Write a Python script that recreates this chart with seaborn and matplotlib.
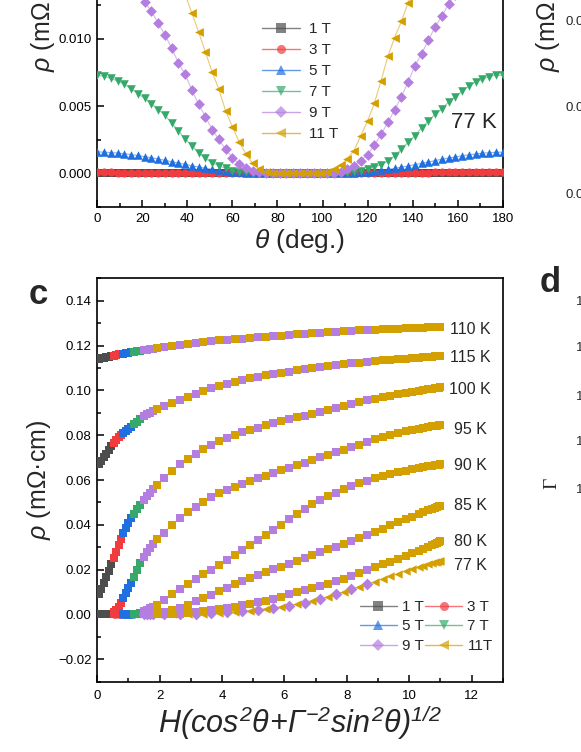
import numpy as np
import pandas as pd
import matplotlib
matplotlib.use("Agg")
import matplotlib.pyplot as plt
from matplotlib.lines import Line2D
from matplotlib.ticker import MultipleLocator, FuncFormatter
import seaborn as sns

# ---------------- data: panel (top) rho vs theta at 77 K ----------------
theta = np.arange(0, 181, 3)
fields = ["1 T", "3 T", "5 T", "7 T", "9 T", "11 T"]
rho_1T = [0.0] * 61
rho_3T = [0.00007, 0.00007, 0.00007, 0.00006, 0.00006, 0.00006, 0.00005, 0.00005, 0.00004, 0.00004,
          0.00003, 0.00003, 0.00002, 0.00002, 0.00001, 0.00001, 0, 0, 0, 0,
          0, 0, 0, 0, 0, 0, 0, 0, 0, 0, 0,
          0, 0, 0, 0, 0, 0, 0, 0, 0, 0, 0, 0, 0,
          0.00001, 0.00002, 0.00003, 0.00004, 0.00005, 0.00006, 0.00007, 0.00008, 0.00008, 0.00009,
          0.00009, 0.0001, 0.0001, 0.0001, 0.0001, 0.0001, 0.0001]
rho_5T = [0.00160, 0.00158, 0.00155, 0.00151, 0.00146, 0.00140, 0.00133, 0.00125, 0.00116, 0.00107,
          0.00097, 0.00087, 0.00077, 0.00067, 0.00057, 0.00047, 0.00038, 0.00030, 0.00023, 0.00017,
          0.00012, 0.00008, 0.00005, 0.00003, 0.00001, 0, 0, 0, 0, 0, 0,
          0, 0, 0, 0, 0, 0.00001, 0.00002, 0.00004, 0.00007, 0.00011,
          0.00016, 0.00022, 0.00029, 0.00037, 0.00046, 0.00055, 0.00065, 0.00075, 0.00085, 0.00095,
          0.00105, 0.00114, 0.00123, 0.00131, 0.00138, 0.00144, 0.00150, 0.00154, 0.00157, 0.00158]
rho_7T = [0.00729, 0.00722, 0.00707, 0.00687, 0.00662, 0.00630, 0.00593, 0.00558, 0.00519, 0.00475,
          0.00433, 0.00376, 0.00316, 0.00257, 0.00205, 0.00153, 0.00111, 0.00079, 0.00057, 0.00037,
          0.00020, 0.00012, 0.00007, 0.00004, 0.00002, 0, 0, 0, 0, 0, 0,
          0, 0, 0, 0, 0, 0.00002, 0.00005, 0.0001, 0.00018, 0.0003,
          0.00046, 0.00066, 0.0009, 0.0013, 0.0018, 0.0023, 0.0028, 0.0034, 0.0039, 0.0044,
          0.0048, 0.0053, 0.0057, 0.0061, 0.0065, 0.0068, 0.0070, 0.0072, 0.0073, 0.0073]
rho_9T = [0.0159, 0.0158, 0.0155, 0.0151, 0.0146, 0.0140, 0.0134, 0.01273, 0.01207, 0.01118,
          0.01031, 0.00932, 0.00823, 0.00737, 0.00618, 0.00514, 0.00420, 0.00326, 0.00252, 0.00178,
          0.00118, 0.00069, 0.00037, 0.00020, 0.00007, 0.00002, 0, 0, 0, 0, 0,
          0, 0, 0, 0.00002, 0.00005, 0.0001, 0.0003, 0.00055, 0.00095, 0.0014,
          0.0021, 0.0029, 0.0038, 0.0047, 0.0057, 0.0068, 0.0080, 0.0089, 0.0099, 0.0109,
          0.0117, 0.0126, 0.0133, 0.0140, 0.0146, 0.0151, 0.0155, 0.0158, 0.0159, 0.0160]
rho_11T = [0.0232, 0.0231, 0.0229, 0.0226, 0.0222, 0.0217, 0.0210, 0.0202, 0.0193, 0.0183,
           0.0172, 0.0160, 0.0147, 0.0133, 0.01192, 0.01051, 0.00902, 0.00754, 0.00625, 0.00464,
           0.00346, 0.00235, 0.00143, 0.00074, 0.00029, 0.00010, 0.00003, 0, 0, 0, 0,
           0, 0, 0.00003, 0.0001, 0.0003, 0.0006, 0.0011, 0.0017, 0.0028, 0.0039,
           0.0052, 0.0069, 0.0087, 0.0101, 0.0113, 0.0127, 0.0142, 0.0156, 0.0169, 0.0181,
           0.0192, 0.0202, 0.0211, 0.0218, 0.0224, 0.0228, 0.0231, 0.0233, 0.0234, 0.0234]
rho_theta = [rho_1T, rho_3T, rho_5T, rho_7T, rho_9T, rho_11T]

# ---------------- data: panel c scaling plot ----------------
x_scaled = [0.05, 0.12, 0.20, 0.28, 0.36, 0.44, 0.52, 0.60, 0.68, 0.76, 0.84, 0.92, 1.00, 1.08,
            1.18, 1.28, 1.38, 1.50, 1.60, 1.70, 1.80,
            1.92, 2.15, 2.40, 2.65, 2.90, 3.15, 3.40, 3.65, 3.90, 4.15, 4.40, 4.65, 4.90, 5.15,
            5.40, 5.65, 5.90, 6.15, 6.40, 6.65, 6.90, 7.15, 7.40, 7.65, 7.90, 8.15, 8.40, 8.65, 8.90,
            9.15, 9.40, 9.65, 9.90, 10.10, 10.30, 10.45, 10.60, 10.72, 10.82, 10.90, 10.96, 11.00]
field_of_point = [1, 1, 1, 1, 1, 1, 3, 3, 3, 3, 5, 5, 5, 5, 7, 7, 7, 9, 9, 9, 9,
                  11, 9, 11, 9, 11, 9, 11, 9, 11, 9, 11, 9, 11, 9, 11, 9, 11, 9, 11, 9, 11, 9, 11, 9,
                  11, 9, 11, 9, 11,
                  11, 11, 11, 11, 11, 11, 11, 11, 11, 11, 11, 11, 11]
temps = ["110 K", "115 K", "100 K", "95 K", "90 K", "85 K", "80 K", "77 K"]
rho_110K = [0.1142, 0.1144, 0.1146, 0.1148, 0.1150, 0.1153, 0.1155, 0.1158, 0.1160, 0.1162,
            0.1164, 0.1166, 0.1168, 0.1170, 0.1172, 0.1175, 0.1177, 0.1180, 0.1182, 0.1184, 0.1186,
            0.1188, 0.1192, 0.1197, 0.1202, 0.1207, 0.1211, 0.1216, 0.1220, 0.1223, 0.1225, 0.1228,
            0.1230, 0.1233, 0.1236, 0.1239, 0.1241, 0.1244, 0.1247, 0.1250, 0.1253, 0.1256, 0.1258,
            0.1260, 0.1262, 0.1264, 0.1266, 0.1268, 0.1269, 0.1271,
            0.1272, 0.1274, 0.1275, 0.1277, 0.1278, 0.1279, 0.1280, 0.1281, 0.1281, 0.1282, 0.1282,
            0.1283, 0.1283]
rho_115K = [0.0670, 0.0686, 0.0702, 0.0718, 0.0734, 0.0750, 0.0765, 0.0779, 0.0790, 0.0800,
            0.0810, 0.0819, 0.0828, 0.0837, 0.0849, 0.0861, 0.0873, 0.0885, 0.0893, 0.0901, 0.0909,
            0.0917, 0.0930, 0.0943, 0.0957, 0.0970, 0.0984, 0.0998, 0.1009, 0.1019, 0.1028, 0.1036,
            0.1044, 0.1053, 0.1061, 0.1067, 0.1072, 0.1078, 0.1084, 0.1089, 0.1094, 0.1100, 0.1105,
            0.1109, 0.1113, 0.1117, 0.1120, 0.1124, 0.1127, 0.1130,
            0.1134, 0.1136, 0.1139, 0.1142, 0.1144, 0.1146, 0.1148, 0.1150, 0.1151, 0.1152, 0.1153,
            0.1154, 0.1155]
rho_100K = [0.0090, 0.0113, 0.0140, 0.0168, 0.0196, 0.0224, 0.0252, 0.0280, 0.0308, 0.0336,
            0.0362, 0.0386, 0.0410, 0.0429, 0.0450, 0.0470, 0.0490, 0.0510, 0.0527, 0.0543, 0.0559,
            0.0578, 0.0610, 0.0642, 0.0670, 0.0693, 0.0717, 0.0738, 0.0758, 0.0774, 0.0788, 0.0800,
            0.0812, 0.0824, 0.0834, 0.0844, 0.0854, 0.0862, 0.0870, 0.0879, 0.0887, 0.0895, 0.0904,
            0.0913, 0.0922, 0.0931, 0.0940, 0.0948, 0.0955, 0.0962,
            0.0969, 0.0976, 0.0982, 0.0988, 0.0993, 0.0997, 0.1001, 0.1004, 0.1007, 0.1009, 0.1011,
            0.1012, 0.1013]
rho_95K = [0, 0, 0, 0, 0.0001, 0.0003, 0.0009, 0.0020, 0.0035, 0.0052,
           0.0074, 0.0095, 0.0117, 0.0139, 0.0169, 0.0200, 0.0231, 0.0257, 0.0280, 0.0298, 0.0316,
           0.0337, 0.0365, 0.0400, 0.0430, 0.0457, 0.0481, 0.0503, 0.0523, 0.0540, 0.0556, 0.0570,
           0.0583, 0.0595, 0.0607, 0.0620, 0.0633, 0.0645, 0.0655, 0.0666, 0.0678, 0.0690, 0.0702,
           0.0713, 0.0724, 0.0736, 0.0747, 0.0758, 0.0769, 0.0781,
           0.0792, 0.0801, 0.0809, 0.0817, 0.0822, 0.0828, 0.0832, 0.0836, 0.0839, 0.0841, 0.0843,
           0.0845, 0.0846]
rho_90K = [0, 0, 0, 0, 0, 0, 0, 0, 0, 0,
           0, 0, 0, 0.0001, 0.0002, 0.0004, 0.0008, 0.0014, 0.0020, 0.0027, 0.0035,
           0.0044, 0.0065, 0.0090, 0.0114, 0.0136, 0.0158, 0.0179, 0.0200, 0.0221, 0.0243, 0.0266,
           0.0289, 0.0311, 0.0333, 0.0355, 0.0378, 0.0400, 0.0425, 0.0450, 0.0472, 0.0492, 0.0510,
           0.0527, 0.0543, 0.0559, 0.0573, 0.0585, 0.0597, 0.0608,
           0.0617, 0.0626, 0.0634, 0.0642, 0.0648, 0.0653, 0.0657, 0.0661, 0.0664, 0.0666, 0.0668,
           0.0669, 0.0670]
rho_85K = [0, 0, 0, 0, 0, 0, 0, 0, 0, 0,
           0, 0, 0, 0, 0, 0, 0, 0, 0, 0.0002, 0.0004,
           0.0007, 0.0013, 0.0021, 0.0031, 0.0044, 0.0058, 0.0073, 0.0088, 0.0104, 0.0119, 0.0134,
           0.0149, 0.0164, 0.0177, 0.0190, 0.0202, 0.0214, 0.0227, 0.0240, 0.0253, 0.0265, 0.0278,
           0.0290, 0.0302, 0.0315, 0.0328, 0.0342, 0.0355, 0.0369,
           0.0383, 0.0397, 0.0411, 0.0425, 0.0436, 0.0447, 0.0456, 0.0464, 0.0471, 0.0476, 0.0480,
           0.0484, 0.0486]
rho_80K = [0, 0, 0, 0, 0, 0, 0, 0, 0, 0,
           0, 0, 0, 0, 0, 0, 0, 0, 0, 0, 0,
           0, 0.0001, 0.0002, 0.0004, 0.0007, 0.0010, 0.0014, 0.0018, 0.0023, 0.0028, 0.0034,
           0.0041, 0.0047, 0.0054, 0.0062, 0.0070, 0.0079, 0.0091, 0.0101, 0.0110, 0.0117, 0.0127,
           0.0138, 0.0149, 0.0160, 0.0172, 0.0185, 0.0197, 0.0210,
           0.0223, 0.0236, 0.0249, 0.0263, 0.0273, 0.0285, 0.0293, 0.0302, 0.0309, 0.0315, 0.0319,
           0.0323, 0.0326]
rho_77K = [0, 0, 0, 0, 0, 0, 0, 0, 0, 0,
           0, 0, 0, 0, 0, 0, 0, 0, 0, 0, 0,
           0, 0, 0, 0.0001, 0.0002, 0.0003, 0.0004, 0.0005, 0.0007, 0.0009, 0.0011,
           0.0014, 0.0017, 0.0021, 0.0025, 0.0030, 0.0034, 0.0039, 0.0046, 0.0053, 0.0061, 0.0070,
           0.0080, 0.0090, 0.0101, 0.0112, 0.0123, 0.0134, 0.0146,
           0.0158, 0.0170, 0.0182, 0.0194, 0.0202, 0.0211, 0.0217, 0.0223, 0.0228, 0.0232, 0.0235,
           0.0237, 0.0239]
rho_scaled = [rho_110K, rho_115K, rho_100K, rho_95K, rho_90K, rho_85K, rho_80K, rho_77K]
field_values = [1, 3, 5, 7, 9, 11]
legend_c_labels = ["1 T", "3 T", "5 T", "7 T", "9 T", "11T"]

# ---------------- styles ----------------
colors = ["#4d4d4d", "#f03c3f", "#1f6fe0", "#35a86a", "#b47ee0", "#d4a000"]
markers = ["s", "o", "^", "v", "D", "<"]
msizes = [30, 34, 38, 38, 30, 40]

sns.set_style("ticks")
plt.rcParams["font.family"] = ["Liberation Sans", "DejaVu Sans"]
plt.rcParams["mathtext.fontset"] = "custom"
plt.rcParams["mathtext.it"] = "Liberation Sans:italic"
plt.rcParams["mathtext.rm"] = "Liberation Sans:italic"
plt.rcParams["mathtext.bf"] = "Liberation Sans:bold"
plt.rcParams["axes.linewidth"] = 1.2

W, H = 581, 752
fig = plt.figure(figsize=(W / 100, H / 100), dpi=100)

def fx(px):
    return px / W

def fy(py):
    return 1 - py / H

def fmt(decimals):
    return FuncFormatter(lambda v, p: f"{v:.{decimals}f}".replace("-", "\u2212"))

def style_axes(ax):
    for s in ax.spines.values():
        s.set_linewidth(1.2)
        s.set_color("black")
    ax.tick_params(which="both", direction="in", top=False, right=False,
                   labelsize=9.5, width=1.1, colors="black", pad=4)
    ax.tick_params(which="major", length=5)
    ax.tick_params(which="minor", length=3)

# ---------------- top panel ----------------
axa = fig.add_axes([fx(97.3), fy(207), fx(502.7) - fx(97.3), 403.4 / H])
for i, f in enumerate(fields):
    sns.lineplot(x=theta, y=rho_theta[i], ax=axa, color=colors[i], lw=0.8, alpha=0.55,
                 estimator=None, legend=False, zorder=2 + i)
    sns.scatterplot(x=theta, y=rho_theta[i], ax=axa, color=colors[i], marker=markers[i],
                    s=msizes[i], linewidth=0, legend=False, zorder=3 + i)
axa.set_xlim(0, 180)
axa.set_ylim(-0.0025, 0.0275)
axa.xaxis.set_major_locator(MultipleLocator(20))
axa.xaxis.set_minor_locator(MultipleLocator(10))
axa.yaxis.set_major_locator(MultipleLocator(0.005))
axa.yaxis.set_minor_locator(MultipleLocator(0.0025))
axa.yaxis.set_major_formatter(fmt(3))
style_axes(axa)
axa.set_xlabel(r"$\theta$ (deg.)", fontsize=19, labelpad=2)
fig.text(fx(43), fy(72), r"$\rho$ (mΩ·cm)", fontsize=18, rotation=90, ha="center", va="bottom")
handles_a = [Line2D([], [], color=colors[i], lw=1.0, alpha=0.7, marker=markers[i],
                    markersize=6.5, markeredgewidth=0, markerfacecolor=colors[i])
             for i in range(6)]
axa.legend(handles_a, fields, loc="upper left", bbox_to_anchor=(fx(262), fy(22)),
           bbox_transform=fig.transFigure, frameon=False, fontsize=11,
           handlelength=2.5, handletextpad=0.6, labelspacing=0.46, borderpad=0, borderaxespad=0)
fig.text(fx(474), fy(122), "77 K", fontsize=16, ha="center", va="center")

# ---------------- panel c ----------------
axc = fig.add_axes([fx(97.3), fy(681.7), fx(502.7) - fx(97.3), 403.4 / H])
xs = np.array(x_scaled)
fp = np.array(field_of_point)
for t_idx, tname in enumerate(temps):
    rr = np.array(rho_scaled[t_idx])
    for i, fv in enumerate(field_values):
        sel = fp == fv
        if not sel.any():
            continue
        mk = markers[i] if tname == "77 K" else "s"
        sns.lineplot(x=xs[sel], y=rr[sel], ax=axc, color=colors[i], lw=0.6, alpha=0.5,
                     estimator=None, legend=False, zorder=2)
        sns.scatterplot(x=xs[sel], y=rr[sel], ax=axc, color=colors[i], marker=mk,
                        s=31 if mk == "s" else 36, linewidth=0, legend=False, zorder=3 + i)
axc.set_xlim(0, 13)
axc.set_ylim(-0.03, 0.15)
axc.xaxis.set_major_locator(MultipleLocator(2))
axc.xaxis.set_minor_locator(MultipleLocator(1))
axc.yaxis.set_major_locator(MultipleLocator(0.02))
axc.yaxis.set_minor_locator(MultipleLocator(0.01))
axc.yaxis.set_major_formatter(fmt(2))
style_axes(axc)
axc.tick_params(axis="x", pad=6)
axc.set_xlabel(r"$H(cos^2\theta\!+\!Γ^{-2}sin^2\theta)^{1/2}$", fontsize=22, labelpad=1)
axc.set_ylabel(r"$\rho$ (mΩ·cm)", fontsize=18, labelpad=4)
order = [0, 2, 4, 1, 3, 5]
handles_c = [Line2D([], [], color=colors[i], lw=1.0, alpha=0.7, marker=markers[i],
                    markersize=6.5, markeredgewidth=0, markerfacecolor=colors[i])
             for i in order]
axc.legend(handles_c, [legend_c_labels[i] for i in order], loc="upper left", ncol=2,
           bbox_to_anchor=(fx(360), fy(600)), bbox_transform=fig.transFigure, frameon=False,
           fontsize=11, handlelength=2.4, handletextpad=0.35, labelspacing=0.36,
           columnspacing=0.1, borderpad=0, borderaxespad=0)
t_label_pos = [330, 357, 389, 429, 466, 505, 542, 566]
for tname, py in zip(temps, t_label_pos):
    fig.text(fx(470), fy(py), tname, fontsize=11.5, ha="center", va="center")

# ---------------- panel letters and neighbouring panel fragments ----------------
fig.text(fx(38), fy(294), "c", fontsize=25, fontweight="bold", ha="center", va="center")
fig.text(fx(550), fy(282), "d", fontsize=25, fontweight="bold", ha="center", va="center")
fig.text(fx(548), fy(72), r"$\rho$ (mΩ·cm)", fontsize=18, rotation=90, ha="center", va="bottom")
for py, lab in zip([22, 108, 195], ["0.015", "0.010", "0.005"]):
    fig.text(fx(565), fy(py), lab, fontsize=9.5, ha="left", va="center")
for py, lab in zip([302, 348, 397, 442, 490], ["1.8", "1.6", "1.4", "1.2", "1.0"]):
    fig.text(fx(576), fy(py), lab, fontsize=9.5, ha="left", va="center")
fig.text(fx(552), fy(483), "Γ", fontsize=14, rotation=90, ha="center", va="center",
         family=["Liberation Serif", "DejaVu Serif"])

fig.savefig("out.png", dpi=100)
